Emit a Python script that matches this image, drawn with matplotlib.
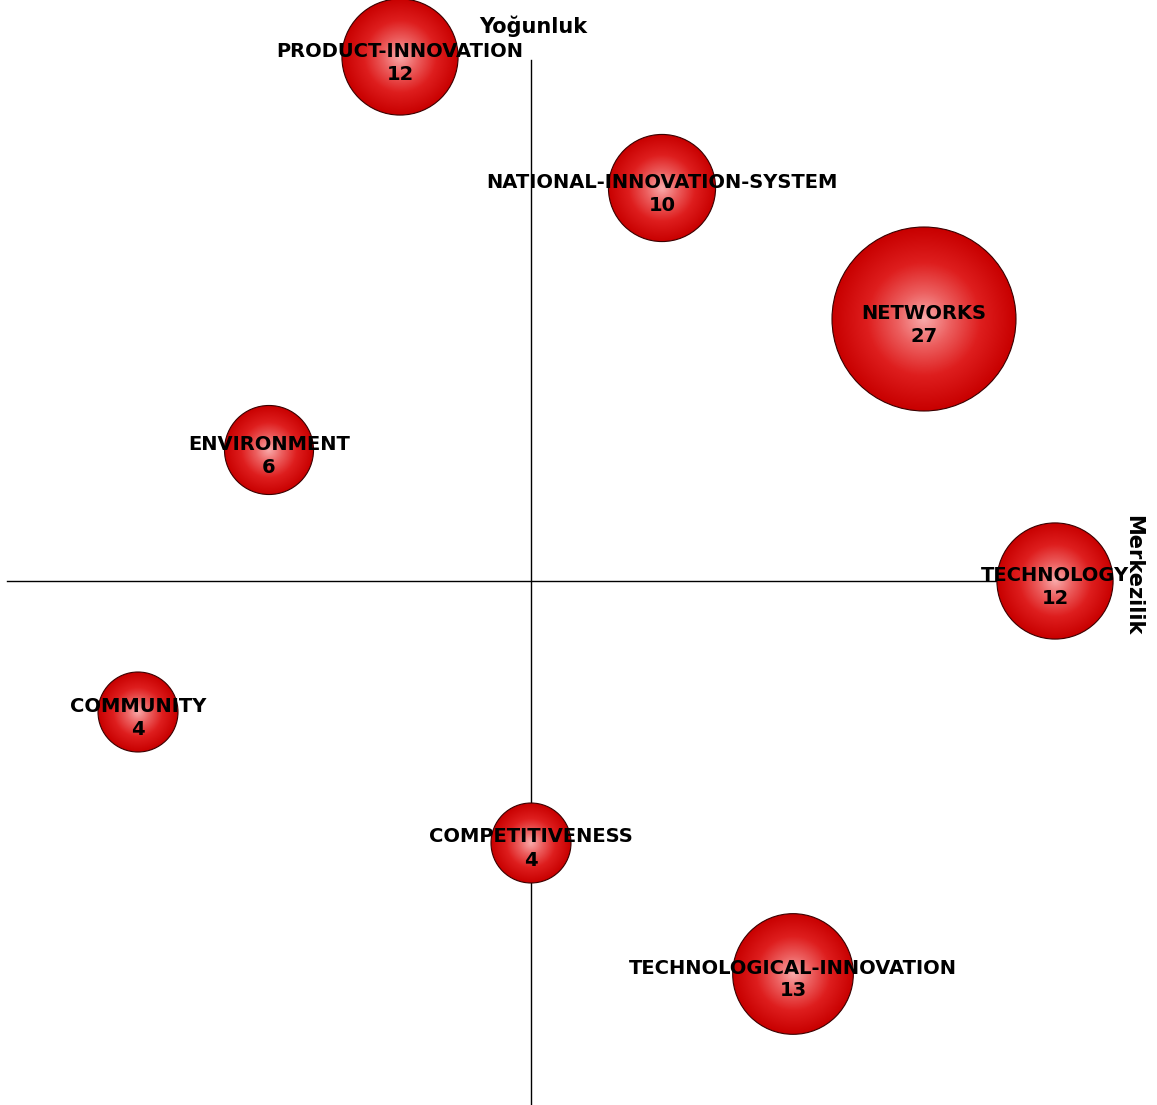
import numpy as np
import matplotlib
matplotlib.use("Agg")
import matplotlib.pyplot as plt
from matplotlib.patches import Circle
from matplotlib.colors import LinearSegmentedColormap

# strategic diagram: themes placed by rank of centrality (x) and density (y)
themes = ["PRODUCT-INNOVATION", "NATIONAL-INNOVATION-SYSTEM", "NETWORKS",
          "ENVIRONMENT", "TECHNOLOGY", "COMMUNITY", "COMPETITIVENESS",
          "TECHNOLOGICAL-INNOVATION"]
documents = [12, 10, 27, 6, 12, 4, 4, 13]
centrality = [-1, 1, 3, -2, 4, -3, 0, 2]
density = [4, 3, 2, 1, 0, -1, -2, -3]

PX = 131.0  # pixels per rank step
W, H = 1157, 1105
x0, y0 = 531, 581  # origin in pixels

fig = plt.figure(figsize=(W / 100, H / 100), dpi=100)
ax = fig.add_axes([0, 0, 1, 1])
ax.axis("off")

ax.plot([-4, 4], [0, 0], color="black", lw=1, zorder=1)
ax.plot([0, 0], [-4, 3.98], color="black", lw=1, zorder=1)

cmap = LinearSegmentedColormap.from_list(
    "bubble", [(0.0, "#f9aaaa"), (0.3, "#ec5e5e"), (0.62, "#de1e1e"), (1.0, "#c80000")])

vmin, vmax = min(documents), max(documents)
n = 200
g = np.linspace(-1, 1, n)
gx, gy = np.meshgrid(g, g)
dist = np.sqrt(gx ** 2 + gy ** 2)

for name, v, cx, cy in zip(themes, documents, centrality, density):
    r_px = 40 + 52 * (v - vmin) / (vmax - vmin)
    r = r_px / PX
    im = ax.imshow(dist, cmap=cmap, vmin=0, vmax=1,
                   extent=[cx - r, cx + r, cy - r, cy + r],
                   origin="lower", interpolation="bilinear", zorder=2)
    clip = Circle((cx, cy), r, transform=ax.transData, facecolor="none")
    ax.add_patch(clip)
    im.set_clip_path(clip)
    ax.add_patch(Circle((cx, cy), r, facecolor="none", edgecolor="#3a0000",
                        lw=0.8, zorder=3))
    ax.text(cx, cy + 6 / PX, name, ha="center", va="center", fontsize=14,
            fontweight="bold", color="black", zorder=4)
    ax.text(cx, cy - 17 / PX, str(v), ha="center", va="center", fontsize=14,
            fontweight="bold", color="black", zorder=4)

ax.set_xlim(-x0 / PX, (W - x0) / PX)
ax.set_ylim(-(H - y0) / PX, y0 / PX)
ax.set_aspect("auto")

ax.text(2 / PX, (y0 - 26) / PX, "Yoğunluk", ha="center", va="center",
        fontsize=15, fontweight="bold")
ax.text((1133 - x0) / PX, (y0 - 575) / PX, "Merkezilik", ha="center", va="center",
        fontsize=15, fontweight="bold", rotation=-90)

fig.savefig("out.png", dpi=100)
